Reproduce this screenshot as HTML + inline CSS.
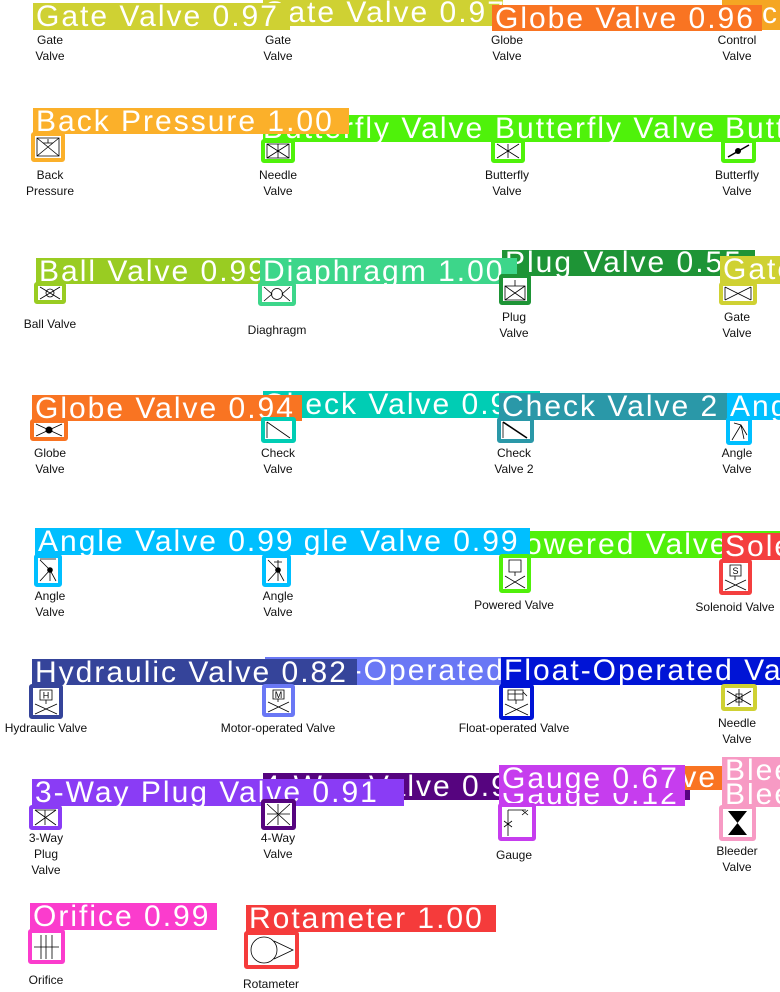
<!DOCTYPE html>
<html><head><meta charset="utf-8"><style>
*{margin:0;padding:0;box-sizing:border-box}
body{width:780px;height:989px;background:#fff;position:relative;overflow:hidden;font-family:"Liberation Sans",sans-serif}
.b{position:absolute;overflow:hidden;color:#fff;font-size:30px;letter-spacing:2px;white-space:nowrap;line-height:28px;padding-left:3px}
.x{position:absolute;border:4px solid;border-radius:3px;background:#fff}
.x svg{position:absolute;left:0;top:0;width:100%;height:100%}
.t{position:absolute;font-size:12px;color:#111;text-align:center;line-height:16px;white-space:nowrap;transform:translateX(-50%)}
</style></head><body>

<!-- row1 -->
<div class="b" style="left:722px;top:0;width:58px;height:30px;background:#f5a623;padding-left:40px">c</div>
<div class="b" style="left:263px;top:0;width:240px;height:26px;background:#cfd133;line-height:26px;padding-left:0">Gate Valve 0.97</div>
<div class="b" style="left:492px;top:5px;width:270px;height:26px;background:#f97422;line-height:28px">Globe Valve 0.96</div>
<div class="b" style="left:33px;top:3px;width:257px;height:27px;background:#cfd133">Gate Valve 0.97</div>
<div class="t" style="left:50px;top:32px">Gate<br>Valve</div>
<div class="t" style="left:278px;top:32px">Gate<br>Valve</div>
<div class="t" style="left:507px;top:32px">Globe<br>Valve</div>
<div class="t" style="left:737px;top:32px">Control<br>Valve</div>

<!-- row2 -->
<div class="b" style="left:263px;top:115px;width:240px;height:27px;background:#4ff20a;padding-left:0">Butterfly Valve</div>
<div class="b" style="left:33px;top:108px;width:316px;height:26px;background:#fbb02a">Back Pressure 1.00</div>
<div class="b" style="left:492px;top:115px;width:235px;height:27px;background:#4ff20a">Butterfly Valve</div>
<div class="b" style="left:722px;top:115px;width:58px;height:27px;background:#4ff20a">Butterfly</div>
<div class="x" style="left:31px;top:132px;width:34px;height:30px;border-color:#fbb02a"><svg viewBox="0 0 26 22"><path d="M2 2L24 20M2 20L24 2M2 2H24V20H2Z" stroke="#000" fill="none" stroke-width=".8"/><path d="M8 7H18M13 7V3" stroke="#000" stroke-width=".8"/></svg></div>
<div class="x" style="left:261px;top:139px;width:34px;height:24px;border-color:#4ff20a"><svg viewBox="0 0 26 16"><path d="M2 1L24 15M2 15L24 1M2 1H24V15H2ZM13 1V15" stroke="#000" fill="none" stroke-width=".8"/></svg></div>
<div class="x" style="left:491px;top:139px;width:34px;height:24px;border-color:#4ff20a"><svg viewBox="0 0 26 16"><path d="M2 1L24 15M2 15L24 1M13 1V15" stroke="#000" fill="none" stroke-width=".8"/></svg></div>
<div class="x" style="left:721px;top:139px;width:35px;height:24px;border-color:#4ff20a"><svg viewBox="0 0 27 16"><path d="M3 14L24 2" stroke="#000" stroke-width="1.5"/><circle cx="13" cy="8" r="3"/></svg></div>
<div class="t" style="left:50px;top:167px">Back<br>Pressure</div>
<div class="t" style="left:278px;top:167px">Needle<br>Valve</div>
<div class="t" style="left:507px;top:167px">Butterfly<br>Valve</div>
<div class="t" style="left:737px;top:167px">Butterfly<br>Valve</div>

<!-- row3 -->
<div class="b" style="left:36px;top:258px;width:230px;height:26px;background:#99cc22">Ball Valve 0.99</div>
<div class="b" style="left:502px;top:250px;width:253px;height:26px;background:#1e9436;line-height:26px">Plug Valve 0.55</div>
<div class="b" style="left:260px;top:258px;width:257px;height:26px;background:#3dd68a">Diaphragm 1.00</div>
<div class="b" style="left:720px;top:256px;width:60px;height:28px;background:#cfd133">Gate</div>
<div class="x" style="left:34px;top:282px;width:32px;height:22px;border-color:#99cc22"><svg viewBox="0 0 24 14"><path d="M2 1L22 13M2 13L22 1" stroke="#000" stroke-width=".8"/><circle cx="12" cy="7" r="4" fill="none" stroke="#000" stroke-width=".8"/></svg></div>
<div class="x" style="left:258px;top:282px;width:38px;height:24px;border-color:#3dd68a"><svg viewBox="0 0 30 16"><path d="M2 1L10 8L2 15M28 1L20 8L28 15" stroke="#000" fill="none" stroke-width=".8"/><circle cx="15" cy="8" r="5.5" fill="none" stroke="#000" stroke-width=".8"/></svg></div>
<div class="x" style="left:499px;top:274px;width:32px;height:31px;border-color:#1e9436"><svg viewBox="0 0 24 23"><path d="M2 8L22 22M2 22L22 8M2 8H22V22H2ZM12 2V8" stroke="#000" fill="none" stroke-width=".8"/></svg></div>
<div class="x" style="left:719px;top:282px;width:38px;height:23px;border-color:#cfd133"><svg viewBox="0 0 30 15"><path d="M2 1L28 14M2 14L28 1M2 1V14M28 1V14" stroke="#000" fill="none" stroke-width=".8"/></svg></div>
<div class="t" style="left:50px;top:316px">Ball Valve</div>
<div class="t" style="left:277px;top:322px">Diaghragm</div>
<div class="t" style="left:514px;top:309px">Plug<br>Valve</div>
<div class="t" style="left:737px;top:309px">Gate<br>Valve</div>

<!-- row4 -->
<div class="b" style="left:263px;top:391px;width:277px;height:27px;background:#00cdb4;padding-left:0">Check Valve 0.97</div>
<div class="b" style="left:32px;top:395px;width:270px;height:26px;background:#f97422">Globe Valve 0.94</div>
<div class="b" style="left:499px;top:393px;width:230px;height:27px;background:#2a98a8">Check Valve 2</div>
<div class="b" style="left:727px;top:393px;width:53px;height:27px;background:#00bfff">Angle</div>
<div class="x" style="left:30px;top:419px;width:38px;height:22px;border-color:#f97422"><svg viewBox="0 0 30 14"><path d="M2 1L28 13M2 13L28 1" stroke="#000" stroke-width=".8"/><circle cx="15" cy="7" r="3.5"/></svg></div>
<div class="x" style="left:261px;top:417px;width:35px;height:26px;border-color:#00cdb4"><svg viewBox="0 0 27 18"><path d="M2 1L25 17M2 1V17" stroke="#000" fill="none" stroke-width=".8"/></svg></div>
<div class="x" style="left:497px;top:417px;width:37px;height:26px;border-color:#2a98a8"><svg viewBox="0 0 29 18"><path d="M2 1L26 17" stroke="#000" stroke-width="1.6"/><path d="M2 1V17" stroke="#000" stroke-width=".8"/></svg></div>
<div class="x" style="left:726px;top:417px;width:26px;height:28px;border-color:#00bfff"><svg viewBox="0 0 18 20"><path d="M2 19L11 4M4 2L11 4L14 18M11 4L17 14" stroke="#000" fill="none" stroke-width=".8"/></svg></div>
<div class="t" style="left:50px;top:445px">Globe<br>Valve</div>
<div class="t" style="left:278px;top:445px">Check<br>Valve</div>
<div class="t" style="left:514px;top:445px">Check<br>Valve 2</div>
<div class="t" style="left:737px;top:445px">Angle<br>Valve</div>

<!-- row5 -->
<div class="b" style="left:500px;top:531px;width:280px;height:27px;background:#50f00a">Powered Valve</div>
<div class="b" style="left:263px;top:528px;width:267px;height:27px;background:#00bfff;padding-left:0">Angle Valve 0.99</div>
<div class="b" style="left:35px;top:528px;width:265px;height:27px;background:#00bfff">Angle Valve 0.99</div>
<div class="b" style="left:722px;top:533px;width:58px;height:27px;background:#f43f3f">Solenoid</div>
<div class="x" style="left:34px;top:554px;width:28px;height:33px;border-color:#00bfff"><svg viewBox="0 0 20 25"><path d="M2 2L12 12L2 23M12 12L18 23M12 12L12 23M2 1H18" stroke="#000" fill="none" stroke-width=".8"/><circle cx="12" cy="12" r="2.8"/></svg></div>
<div class="x" style="left:262px;top:554px;width:29px;height:33px;border-color:#00bfff"><svg viewBox="0 0 21 25"><path d="M2 2L12 12L2 23M12 12L18 23M12 12L12 23M12 2V12M8 4H16" stroke="#000" fill="none" stroke-width=".8"/><circle cx="12" cy="12" r="2.8"/></svg></div>
<div class="x" style="left:499px;top:554px;width:32px;height:39px;border-color:#50f00a"><svg viewBox="0 0 24 31"><path d="M6 2H18V14H6ZM12 14V18M2 18L22 30M2 30L22 18" stroke="#000" fill="none" stroke-width=".8"/></svg></div>
<div class="x" style="left:719px;top:559px;width:33px;height:36px;border-color:#f43f3f"><svg viewBox="0 0 25 28"><path d="M7 2H18V13H7ZM12 13V17M2 17L23 27M2 27L23 17" stroke="#000" fill="none" stroke-width=".8"/><text x="12.5" y="11" font-size="9" text-anchor="middle" font-family="Liberation Sans">S</text></svg></div>
<div class="t" style="left:50px;top:588px">Angle<br>Valve</div>
<div class="t" style="left:278px;top:588px">Angle<br>Valve</div>
<div class="t" style="left:514px;top:597px">Powered Valve</div>
<div class="t" style="left:735px;top:599px">Solenoid Valve</div>

<!-- row6 -->
<div class="b" style="left:265px;top:657px;width:240px;height:28px;background:#6a78f5;padding-left:0">Motor-Operated Valve</div>
<div class="b" style="left:32px;top:659px;width:325px;height:26px;background:#35449a">Hydraulic Valve 0.82</div>
<div class="b" style="left:501px;top:657px;width:279px;height:28px;background:#0014d6">Float-Operated Valve</div>
<div class="x" style="left:29px;top:684px;width:34px;height:35px;border-color:#35449a"><svg viewBox="0 0 26 27"><path d="M7 2H19V12H7ZM13 12V16M2 16L24 26M2 26L24 16" stroke="#000" fill="none" stroke-width=".8"/><text x="13" y="10.5" font-size="9" text-anchor="middle" font-family="Liberation Sans">H</text></svg></div>
<div class="x" style="left:262px;top:684px;width:33px;height:33px;border-color:#6a78f5"><svg viewBox="0 0 25 25"><path d="M7 2H18V11H7ZM12 11V14M2 14L23 24M2 24L23 14" stroke="#000" fill="none" stroke-width=".8"/><text x="12.5" y="10" font-size="9" text-anchor="middle" font-family="Liberation Sans">M</text></svg></div>
<div class="x" style="left:499px;top:684px;width:35px;height:36px;border-color:#0014d6"><svg viewBox="0 0 27 28"><path d="M5 2H20V12H5ZM5 6H20M12 2V12M20 4L24 8M13 12V16M2 16L25 27M2 27L25 16" stroke="#000" fill="none" stroke-width=".8"/></svg></div>
<div class="x" style="left:721px;top:684px;width:36px;height:27px;border-color:#cfd133"><svg viewBox="0 0 28 19"><path d="M2 3L26 17M2 17L26 3M14 1V18M11 6H17V14H11Z" stroke="#000" fill="none" stroke-width=".8"/></svg></div>
<div class="t" style="left:46px;top:720px">Hydraulic Valve</div>
<div class="t" style="left:278px;top:720px">Motor-operated Valve</div>
<div class="t" style="left:514px;top:720px">Float-operated Valve</div>
<div class="t" style="left:737px;top:715px">Needle<br>Valve</div>

<!-- row7 -->
<div class="b" style="left:263px;top:773px;width:427px;height:27px;background:#56047f;padding-left:0">4-Way Valve 0.98</div>
<div class="b" style="left:32px;top:779px;width:372px;height:27px;background:#8a3cf5">3-Way Plug Valve 0.91</div>
<div class="b" style="left:654px;top:766px;width:76px;height:24px;background:#f97422;padding-left:0;line-height:24px">olve</div>
<div class="b" style="left:499px;top:790px;width:186px;height:16px;background:#c63dee;line-height:10px">Gauge 0.12</div>
<div class="b" style="left:499px;top:765px;width:186px;height:28px;background:#c63dee">Gauge 0.67</div>
<div class="b" style="left:722px;top:757px;width:58px;height:26px;background:#f79ac4">Bleeder</div>
<div class="b" style="left:722px;top:783px;width:58px;height:24px;background:#f79ac4;line-height:24px">Bleeder</div>
<div class="x" style="left:29px;top:805px;width:33px;height:25px;border-color:#8a3cf5"><svg viewBox="0 0 25 17"><path d="M2 1L23 16M2 16L23 1M12 1V16M2 1H23" stroke="#000" fill="none" stroke-width=".8"/></svg></div>
<div class="x" style="left:261px;top:799px;width:35px;height:31px;border-color:#56047f"><svg viewBox="0 0 27 23"><path d="M2 1L25 22M2 22L25 1M13 1V22M2 11H25" stroke="#000" fill="none" stroke-width=".8"/></svg></div>
<div class="x" style="left:498px;top:803px;width:38px;height:38px;border-color:#c63dee"><svg viewBox="0 0 30 30"><path d="M6 3H24M6 3V29M20 3L26 8M26 3L20 8M2 14L10 20M2 20L10 14" stroke="#000" fill="none" stroke-width=".8"/></svg></div>
<div class="x" style="left:719px;top:805px;width:37px;height:36px;border-color:#f79ac4"><svg viewBox="0 0 29 28"><path d="M5 2H24L5 26H24Z" fill="#000"/></svg></div>
<div class="t" style="left:46px;top:830px">3-Way<br>Plug<br>Valve</div>
<div class="t" style="left:278px;top:830px">4-Way<br>Valve</div>
<div class="t" style="left:514px;top:847px">Gauge</div>
<div class="t" style="left:737px;top:843px">Bleeder<br>Valve</div>

<!-- row8 -->
<div class="b" style="left:30px;top:903px;width:187px;height:27px;background:#fb3ccd">Orifice 0.99</div>
<div class="b" style="left:246px;top:905px;width:250px;height:27px;background:#f53b3b">Rotameter 1.00</div>
<div class="x" style="left:28px;top:929px;width:37px;height:35px;border-color:#fb3ccd"><svg viewBox="0 0 29 27"><path d="M2 14H27M9 2V26M20 2V26M14 2V26" stroke="#000" fill="none" stroke-width=".8"/></svg></div>
<div class="x" style="left:244px;top:931px;width:55px;height:38px;border-color:#f53b3b"><svg viewBox="0 0 47 30"><ellipse cx="16" cy="15" rx="13" ry="13" fill="none" stroke="#000" stroke-width=".8"/><path d="M26 6L45 15L26 24" fill="none" stroke="#000" stroke-width=".8"/></svg></div>
<div class="t" style="left:46px;top:972px">Orifice</div>
<div class="t" style="left:271px;top:976px">Rotameter</div>

</body></html>
